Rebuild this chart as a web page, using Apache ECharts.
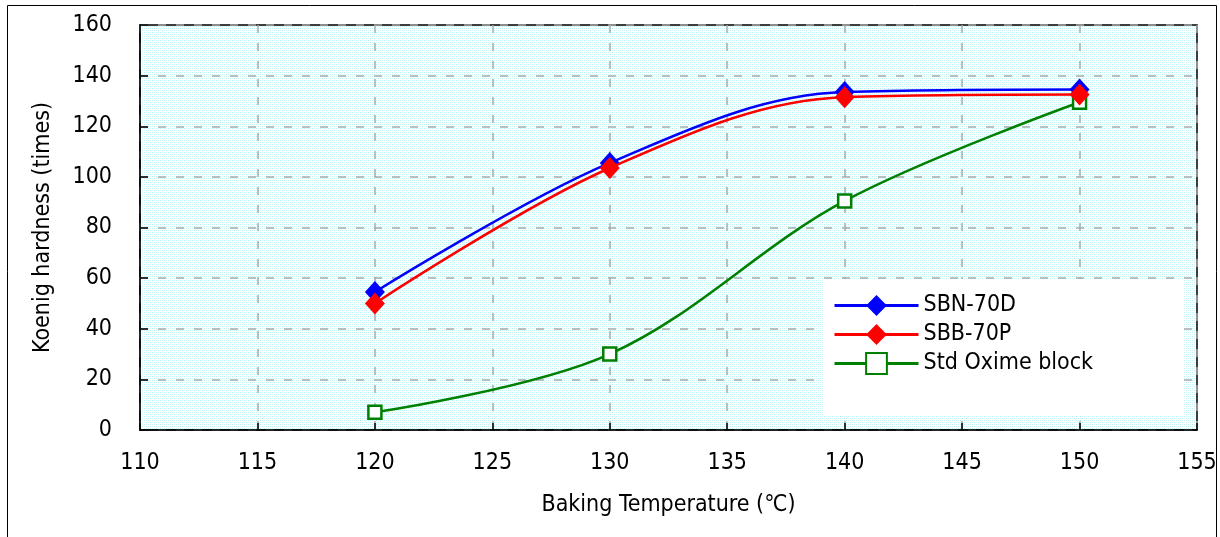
<!DOCTYPE html>
<html><head><meta charset="utf-8">
<script src="https://cdn.jsdelivr.net/npm/echarts@6/dist/echarts.min.js"></script>
<style>html,body{margin:0;padding:0;background:#fff}#c{width:1220px;height:537px}</style>
</head><body><div id="c"></div>
<script>
var temps = [120, 130, 140, 150];
var sbn70d = [54.5, 105.5, 133.5, 134.5];
var sbb70p = [50, 103.5, 131.5, 132.5];
var stdOxime = [7, 30, 90.5, 129.5];
var seriesNames = ['SBN-70D', 'SBB-70P', 'Std Oxime block'];

function pairs(ys){ return temps.map(function(t,i){ return [t, ys[i]]; }); }

var pc = document.createElement('canvas');
pc.width = 4; pc.height = 4;
var g = pc.getContext('2d');
g.fillStyle = '#ffffff'; g.fillRect(0,0,4,4);
g.fillStyle = '#b4f2f2';
g.fillRect(0,0,1,1); g.fillRect(2,2,1,1);
g.fillStyle = '#d6f8f8';
g.fillRect(2,0,1,1); g.fillRect(0,2,1,1);

var font = "'DejaVu Sans Condensed','Liberation Sans',sans-serif";
var chart = echarts.init(document.getElementById('c'), null, {renderer:'canvas'});
chart.setOption({
  animation:false,
  backgroundColor:'#fff',
  graphic:[
    {type:'rect', shape:{x:7.5,y:5.5,width:1209,height:540}, style:{fill:null, stroke:'#000', lineWidth:1}, silent:true},
    {type:'rect', z:3, shape:{x:824,y:279,width:359,height:137}, style:{fill:'#fff', stroke:null}, silent:true}
  ],
  grid:{left:140, right:23, top:25, bottom:107, show:true, backgroundColor:{image:pc, repeat:'repeat'}, borderColor:'#000', borderWidth:1.5},
  xAxis:{type:'value', min:110, max:155, interval:5,
    name:'Baking Temperature (\u2103)', nameLocation:'middle', nameGap:64,
    nameTextStyle:{fontFamily:font, fontSize:23, color:'#000'},
    axisLine:{show:true, onZero:false, lineStyle:{color:'#000', width:1.5}},
    axisTick:{show:true, inside:true, length:7, lineStyle:{color:'#000', width:1.5}},
    axisLabel:{fontFamily:font, fontSize:23, color:'#000', margin:22},
    splitLine:{show:true, lineStyle:{color:'#aaaaaa', type:[8,10], width:1.5}}},
  yAxis:{type:'value', min:0, max:160, interval:20,
    name:'Koenig hardness (times)', nameLocation:'middle', nameGap:85, nameRotate:90,
    nameTextStyle:{fontFamily:font, fontSize:23, color:'#000'},
    axisLine:{show:true, lineStyle:{color:'#000', width:1.5}},
    axisTick:{show:true, inside:true, length:8, lineStyle:{color:'#000', width:1.5}},
    axisLabel:{fontFamily:font, fontSize:23, color:'#000', margin:28},
    splitLine:{show:true, lineStyle:{color:'#aaaaaa', type:[8,10], width:1.5}}},
  legend:{orient:'vertical', left:824, top:279, z:5,
    padding:[15, 20, 10, 9], itemGap:6, itemWidth:84, itemHeight:26,
    textStyle:{fontFamily:font, fontSize:23, color:'#000'},
    lineStyle:{width:3},
    data:seriesNames},
  series:[
    {name:seriesNames[0], type:'line', smooth:0.35, data:pairs(sbn70d), symbol:'diamond', symbolSize:[20,22],
     lineStyle:{color:'#0000ff', width:2.5}, itemStyle:{color:'#0000ff'}, z:4},
    {name:seriesNames[1], type:'line', smooth:0.35, data:pairs(sbb70p), symbol:'diamond', symbolSize:[20,22],
     lineStyle:{color:'#ff0000', width:2.5}, itemStyle:{color:'#ff0000'}, z:5},
    {name:seriesNames[2], type:'line', smooth:0.35, data:pairs(stdOxime), symbol:'rect', symbolSize:13,
     lineStyle:{color:'#008000', width:2.5}, itemStyle:{color:'#ffffff', borderColor:'#008000', borderWidth:2.5}, z:3}
  ]
});
</script></body></html>
